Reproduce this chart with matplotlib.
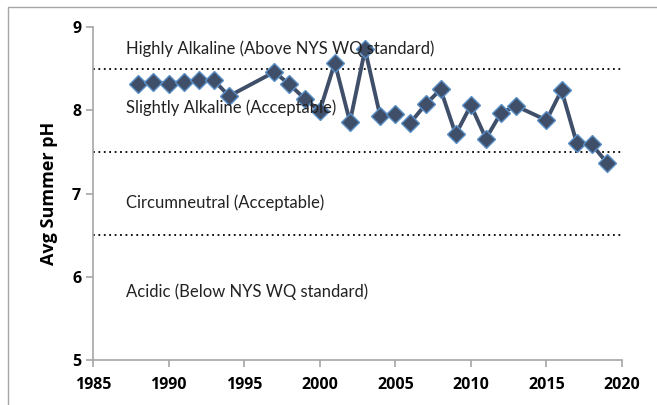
import matplotlib.pyplot as plt
from matplotlib.patches import Rectangle

# Avg summer pH by year (gap in the record between 2005 and 2006)
years_a = [1988, 1989, 1990, 1991, 1992, 1993, 1994, 1997, 1998, 1999,
           2000, 2001, 2002, 2003, 2004, 2005]
ph_a = [8.32, 8.34, 8.32, 8.34, 8.36, 8.36, 8.17, 8.46, 8.31, 8.14,
        7.99, 8.57, 7.86, 8.73, 7.93, 7.96]
years_b = [2006, 2007, 2008, 2009, 2010, 2011, 2012, 2013, 2015, 2016,
           2017, 2018, 2019]
ph_b = [7.85, 8.07, 8.25, 7.71, 8.06, 7.66, 7.97, 8.05, 7.88, 8.24,
        7.61, 7.59, 7.37]

thresholds = [8.5, 7.5, 6.5]
zone_labels = ["Highly Alkaline (Above NYS WQ standard)",
               "Slightly Alkaline (Acceptable)",
               "Circumneutral (Acceptable)",
               "Acidic (Below NYS WQ standard)"]
zone_y = [8.74, 8.03, 6.89, 5.82]

plt.rcParams['font.family'] = ['Lato', 'DejaVu Sans']
bold_font = ['Open Sans', 'DejaVu Sans']

fig = plt.figure(figsize=(6.57, 4.05), dpi=100)
ax = fig.add_axes([93 / 657, 1 - 360 / 405, (622 - 93) / 657, (360 - 27) / 405])

# outer chart border
fig.patches.append(Rectangle((8 / 657, -0.1), 1.2, 1 - 7 / 405 + 0.1,
                             transform=fig.transFigure, fill=False,
                             edgecolor='#A6A6A6', linewidth=1))

for t in thresholds:
    ax.axhline(t, color='black', linestyle=(0, (1, 2)), linewidth=1.3)

for lab, y in zip(zone_labels, zone_y):
    ax.text(1987.2, y, lab, fontsize=12, color='#222222', va='center')

style = dict(color='#3F4E69', linewidth=2.8, marker='D', markersize=9.5,
             markerfacecolor='#3F4E69', markeredgecolor='#5A90C8',
             markeredgewidth=1.0)
ax.plot(years_a, ph_a, **style)
ax.plot(years_b, ph_b, **style)

ax.set_xlim(1985, 2020)
ax.set_ylim(5, 9)
ax.set_xticks(range(1985, 2021, 5))
ax.set_yticks(range(5, 10))
ax.set_xticklabels([str(v) for v in range(1985, 2021, 5)],
                   family=bold_font, fontweight='bold', fontsize=11.5)
ax.set_yticklabels([str(v) for v in range(5, 10)],
                   family=bold_font, fontweight='bold', fontsize=11.5)
ax.set_ylabel("Avg Summer pH", family=bold_font, fontsize=13,
              fontweight='bold', labelpad=10)
for s in ['top', 'right']:
    ax.spines[s].set_visible(False)
for s in ['left', 'bottom']:
    ax.spines[s].set_color('#A6A6A6')
    ax.spines[s].set_linewidth(1.2)
ax.tick_params(colors='#A6A6A6', length=5, width=1.2, labelcolor='black')
ax.tick_params(axis='x', pad=7)

fig.savefig('out.png', dpi=100)
